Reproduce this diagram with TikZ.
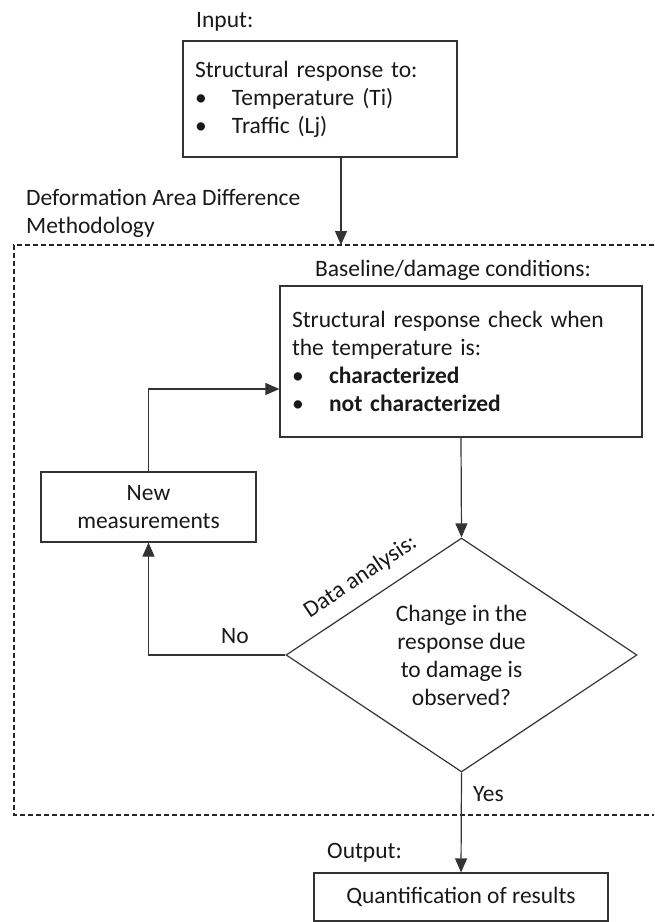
\documentclass[tikz,border=0pt]{standalone}
\usepackage{fontspec}
\setmainfont{Carlito}
\usetikzlibrary{arrows.meta,shapes.geometric,calc}
\newcommand{\bulitem}[1]{\makebox[37pt][l]{\textbullet}#1}
\begin{document}
\begin{tikzpicture}[x=1pt,y=-1pt,
  every node/.style={font=\fontsize{23.5}{28}\selectfont, text=black!90},
  box/.style={draw=black!80, line width=1.2pt, rectangle, inner sep=0pt},
  lbl/.style={inner sep=0pt},
  arr/.style={draw=black!80, line width=1.2pt, -{Triangle[length=14pt,width=12pt]}},
  frame/.style={draw=black!85, line width=1.2pt, dash pattern=on 5pt off 3pt}
]
\useasboundingbox (0,0) rectangle (654,922);

% dashed methodology frame (open on the right)
\draw[frame] (654,245) -- (14,245) -- (14,815) -- (654,815);

% boxes
\node[box, minimum width=274pt, minimum height=116pt, text width=250pt, align=left] (inp) at (320,99)
  {Structural response to:\\ \bulitem{Temperature (Ti)}\\ \bulitem{Traffic (Lj)}};
\node[box, minimum width=362pt, minimum height=151pt, text width=338pt, align=left] (chk) at (461,361.5)
  {Structural response check when\\ the temperature is:\\ \bulitem{\textbf{characterized}}\\ \bulitem{\textbf{not characterized}}};
\node[box, minimum width=215pt, minimum height=70pt, align=center] (newm) at (148.5,507)
  {New\\measurements};
\node[draw=black!80, line width=1.2pt, diamond, aspect=1.5, inner sep=0pt,
      minimum width=351pt, minimum height=234pt, align=center] (dia) at (461.5,655)
  {Change in the\\response due\\to damage is\\observed?};
\node[box, minimum width=294pt, minimum height=48pt] (out) at (461,897)
  {Quantification of results};

% labels
\node[lbl, anchor=base west] (inlbl) at (196,27) {Input:};
\node[lbl, anchor=west, align=left] (dadm) at (26,213) {Deformation Area Difference\\Methodology};
\node[lbl, anchor=base] (bdc) at (453,276) {Baseline/damage conditions:};
\node[lbl, anchor=base] (no) at (235,643) {No};
\node[lbl, anchor=base] (yes) at (488.5,801) {Yes};
\node[lbl, anchor=base west] (outlbl) at (327,858) {Output:};
\node[lbl, anchor=base, rotate=33.8] (da) at (364,582) {Data analysis:};

% connectors
\coordinate (ftop) at (341,245);
\coordinate (loopy) at (0,389);
\draw[arr] (inp.south -| ftop) -- (ftop);
\draw[arr] (chk.south) -- (dia.north);
\draw[arr] (dia.west) -| (newm.south);
\draw[arr] (newm.north) |- (chk.west |- loopy);
\draw[arr] (dia.south) -- (out.north);
\end{tikzpicture}
\end{document}
